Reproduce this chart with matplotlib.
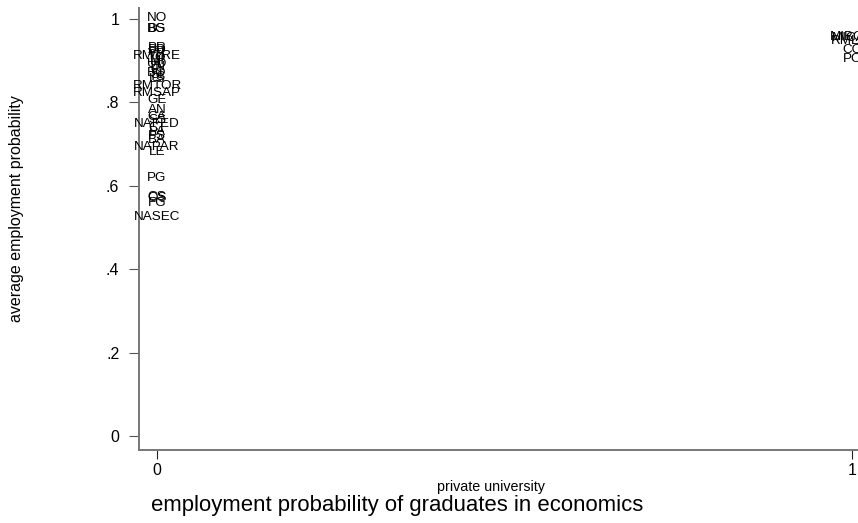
import matplotlib
matplotlib.use("Agg")
import matplotlib.pyplot as plt

plt.rcParams["font.family"] = ["Liberation Sans", "DejaVu Sans"]

# public universities (private = 0)
public_codes = [
    "NO", "BS", "BG",
    "PR", "PD", "PV", "VR", "RMTRE", "TO", "MI", "UD", "TN",
    "FI", "BO", "SI", "TS", "LS",
    "RMTOR", "RMSAP", "GE", "AN", "CA", "SS", "NAFED", "CT", "PA",
    "PS", "BA", "NAPAR", "LE", "PG", "CS", "OS", "FG", "NASEC",
]
public_prob = [
    1.002, 0.976, 0.975,
    0.930, 0.926, 0.921, 0.916, 0.911, 0.906, 0.899, 0.892, 0.885,
    0.878, 0.871, 0.866, 0.860, 0.856,
    0.839, 0.823, 0.806, 0.782, 0.765, 0.758, 0.748, 0.739, 0.729,
    0.719, 0.710, 0.693, 0.681, 0.619, 0.573, 0.570, 0.559, 0.525,
]

# private universities (private = 1)
private_codes = ["MIBOC", "MICAT", "RMLUI", "CO", "PC"]
private_prob = [0.957, 0.954, 0.947, 0.926, 0.904]

fig = plt.figure(figsize=(8.58, 5.23), dpi=100)
ax = fig.add_axes([139 / 858, 73 / 523, 719 / 858, 442 / 523])

for code, p in zip(public_codes, public_prob):
    ax.text(0, p, code, ha="center", va="center", fontsize=9.7, color="black")
for code, p in zip(private_codes, private_prob):
    ax.text(1, p, code, ha="center", va="center", fontsize=9.7, color="black")

ax.set_xlim(-0.0259, 1.0086)
ax.set_ylim(-0.0336, 1.026)

ax.set_yticks([0, 0.2, 0.4, 0.6, 0.8, 1])
ax.set_yticklabels(["0", ".2", ".4", ".6", ".8", "1"], fontsize=11.5)
ax.set_xticks([0, 1])
ax.set_xticklabels(["0", "1"], fontsize=11.5)
ax.tick_params(axis="y", length=7.2, width=0.8, color="#555555", pad=7)
ax.tick_params(axis="x", length=6.5, width=0.8, color="#222222", pad=3)

for side in ["top", "right"]:
    ax.spines[side].set_visible(False)
for side in ["left", "bottom"]:
    ax.spines[side].set_color("#777777")
    ax.spines[side].set_linewidth(1.4)

fig.text(491 / 858, 1 - 487 / 523, "private university", ha="center", va="center", fontsize=10.3)
fig.text(397 / 858, 1 - 506 / 523, "employment probability of graduates in economics",
         ha="center", va="center", fontsize=15.9)
fig.text(17 / 858, 1 - 209 / 523, "average employment probability", ha="center", va="center",
         rotation=90, fontsize=11.5)

fig.savefig("out.png", dpi=100)
plt.close(fig)
